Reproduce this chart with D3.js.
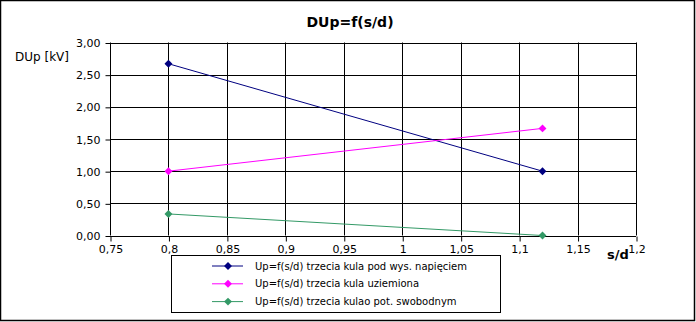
<!DOCTYPE html>
<html>
<head>
<meta charset="utf-8">
<script src="https://cdn.jsdelivr.net/npm/d3@7"></script>
<style>
  html, body { margin: 0; padding: 0; background: #fff; }
  svg { display: block; font-family: "DejaVu Sans", sans-serif; }
</style>
</head>
<body>
<svg id="chart" width="696" height="322"></svg>
<script>
// s/d values and measured voltage differences for each arrangement
const sd = [0.8, 1.12];
const upHigh = [2.67, 1.00];      // third sphere at high voltage
const upGround = [1.00, 1.665];   // third sphere grounded
const upFloat = [0.335, 0.00];    // third sphere at floating potential

const seriesNames = [
  "Up=f(s/d) trzecia kula pod wys. napięciem",
  "Up=f(s/d) trzecia kula uziemiona",
  "Up=f(s/d) trzecia kulao pot. swobodnym"
];
const seriesColors = ["#000080", "#ff00ff", "#339966"];

const xTicks = [0.75, 0.8, 0.85, 0.9, 0.95, 1, 1.05, 1.1, 1.15, 1.2];
const yTicks = [0, 0.5, 1, 1.5, 2, 2.5, 3];

const fmtX = d => String(d).replace(".", ",");
const fmtY = d => d.toFixed(2).replace(".", ",");

const svg = d3.select("#chart");
const W = 696, H = 322;

// outer frame
svg.append("rect").attr("x", 0.5).attr("y", 0.5).attr("width", W - 2).attr("height", H - 2)
  .attr("fill", "#fff").attr("stroke", "#000").attr("stroke-width", 1.5);

const plot = { left: 110, right: 636, top: 42.5, bottom: 235.5 };
const x = d3.scaleLinear().domain([0.75, 1.2]).range([plot.left, plot.right]);
const y = d3.scaleLinear().domain([0, 3]).range([plot.bottom, plot.top]);

// grid
const g = svg.append("g");
g.selectAll("line.vg").data(xTicks).join("line")
  .attr("x1", d => Math.round(x(d)) + 0.5).attr("x2", d => Math.round(x(d)) + 0.5)
  .attr("y1", plot.top).attr("y2", plot.bottom)
  .attr("stroke", "#000").attr("stroke-width", 1);
g.selectAll("line.hg").data(yTicks).join("line")
  .attr("y1", d => Math.round(y(d)) + 0.5).attr("y2", d => Math.round(y(d)) + 0.5)
  .attr("x1", plot.left).attr("x2", plot.right)
  .attr("stroke", "#000").attr("stroke-width", 1);

// axes
const xAxis = d3.axisBottom(x).tickValues(xTicks).tickFormat(fmtX).tickSize(5).tickSizeOuter(0);
const yAxis = d3.axisLeft(y).tickValues(yTicks).tickFormat(fmtY).tickSize(5).tickSizeOuter(0);

const gx = svg.append("g").attr("transform", `translate(0.5,${Math.round(plot.bottom) + 0.5})`).call(xAxis);
const gy = svg.append("g").attr("transform", `translate(${plot.left + 0.5},0.5)`).call(yAxis);
[gx, gy].forEach(a => {
  a.select(".domain").remove();
  a.selectAll("line").attr("stroke", "#000");
  a.selectAll("text").attr("font-size", 11).attr("fill", "#000")
    .attr("font-family", "DejaVu Sans, sans-serif");
});
gx.selectAll("text").attr("dy", "0.75em").attr("y", 8);
gy.selectAll("text").attr("x", -10);

// series
const series = [upHigh, upGround, upFloat];
const line = d3.line().x(d => x(d[0])).y(d => y(d[1]));
const diamond = d3.symbol().type(d3.symbolDiamond2).size(40);

series.forEach((vals, i) => {
  const pts = sd.map((s, k) => [s, vals[k]]);
  svg.append("path").datum(pts).attr("d", line)
    .attr("fill", "none").attr("stroke", seriesColors[i]).attr("stroke-width", 1);
  svg.selectAll(null).data(pts).join("path")
    .attr("d", diamond)
    .attr("transform", d => `translate(${x(d[0])},${y(d[1])})`)
    .attr("fill", seriesColors[i]);
});

// titles
svg.append("text").attr("x", 350).attr("y", 27).attr("text-anchor", "middle")
  .attr("font-size", 14).attr("font-weight", "bold").text("DUp=f(s/d)");
svg.append("text").attr("x", 15).attr("y", 61)
  .attr("font-size", 12).text("DUp [kV]");
svg.append("text").attr("x", 607).attr("y", 259)
  .attr("font-size", 13).attr("font-weight", "bold").text("s/d");

// legend
const lg = svg.append("g");
lg.append("rect").attr("x", 171.5).attr("y", 255.5).attr("width", 329).attr("height", 57)
  .attr("fill", "#fff").attr("stroke", "#000").attr("stroke-width", 1);
seriesNames.forEach((name, i) => {
  const ly = 266 + i * 17.8;
  lg.append("line").attr("x1", 212).attr("x2", 243).attr("y1", ly).attr("y2", ly)
    .attr("stroke", seriesColors[i]).attr("stroke-width", 1);
  lg.append("path").attr("d", diamond).attr("transform", `translate(228,${ly})`)
    .attr("fill", seriesColors[i]);
  lg.append("text").attr("x", 255).attr("y", ly + 3.5).attr("font-size", 10).text(name);
});
</script>
</body>
</html>
